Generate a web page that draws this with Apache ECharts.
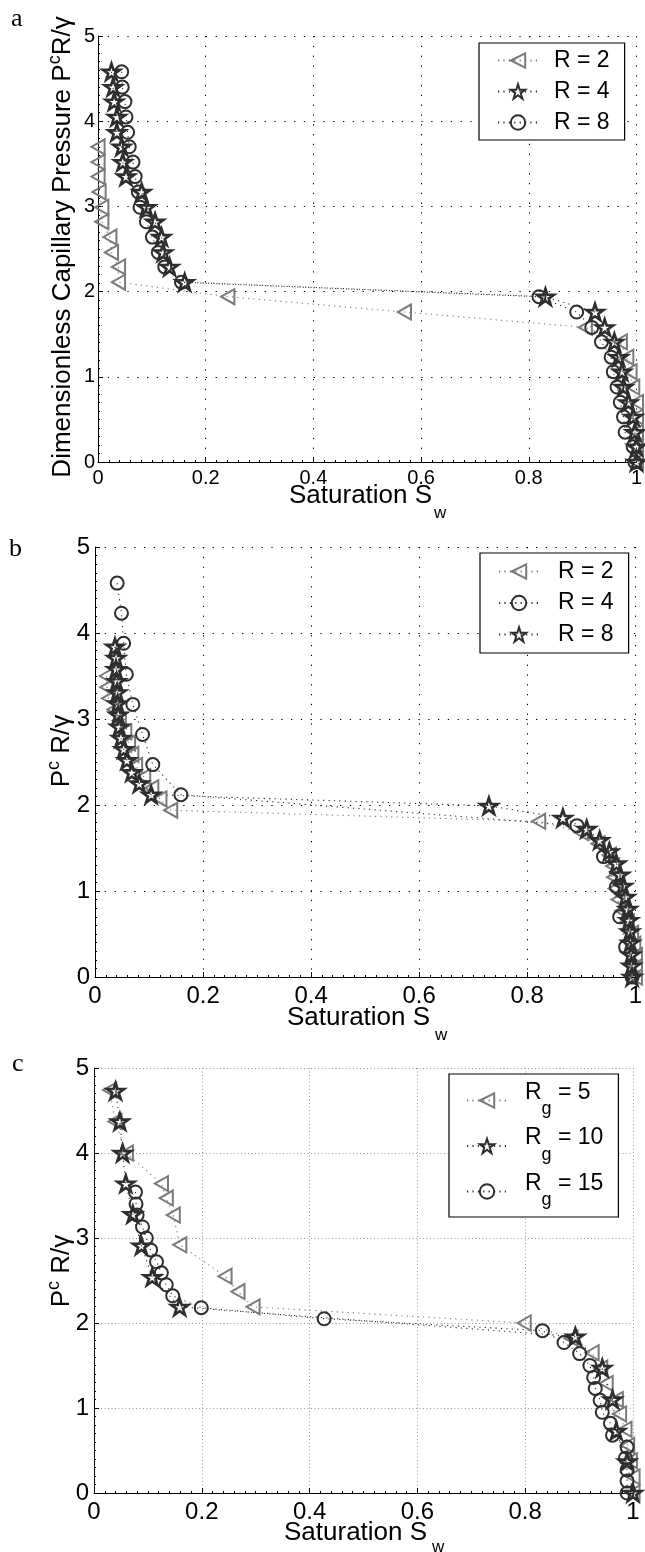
<!DOCTYPE html>
<html><head><meta charset="utf-8">
<script src="https://cdn.jsdelivr.net/npm/echarts@6/dist/echarts.min.js"></script>
<style>html,body{margin:0;padding:0;background:#fff}#c{width:645px;height:1552px}</style>
</head><body><div id="c"></div><script>
// ---------- data ----------
const xTicks = [0, 0.2, 0.4, 0.6, 0.8, 1];
const yTicks = [0, 1, 2, 3, 4, 5];

// Panel a
const aR2_y = [3.70, 3.52, 3.35, 3.17, 2.99, 2.82, 2.64, 2.46, 2.29, 2.11, 1.94, 1.76, 1.58, 1.41, 1.23, 1.06, 0.88, 0.70, 0.53, 0.35, 0.18, 0.0];
const aR2_x = [0.0, 0.0, 0.0, 0.002, 0.007, 0.007, 0.022, 0.025, 0.038, 0.038, 0.241, 0.569, 0.905, 0.970, 0.982, 0.988, 0.993, 1.0, 1.0, 1.0, 1.0, 1.0];
const aR48_y = [4.58, 4.40, 4.23, 4.05, 3.87, 3.70, 3.52, 3.35, 3.17, 2.99, 2.82, 2.64, 2.46, 2.29, 2.11, 1.94, 1.76, 1.58, 1.41, 1.23, 1.06, 0.88, 0.70, 0.53, 0.35, 0.18, 0.0];
const aR4_x = [0.025, 0.028, 0.030, 0.035, 0.035, 0.044, 0.046, 0.052, 0.081, 0.090, 0.106, 0.118, 0.121, 0.133, 0.161, 0.831, 0.923, 0.941, 0.959, 0.967, 0.973, 0.976, 0.985, 0.994, 0.997, 1.0, 1.0];
const aR8_x = [0.044, 0.045, 0.050, 0.052, 0.055, 0.058, 0.065, 0.069, 0.075, 0.078, 0.090, 0.101, 0.112, 0.124, 0.155, 0.819, 0.889, 0.917, 0.935, 0.953, 0.957, 0.964, 0.970, 0.976, 0.979, 0.994, 0.997];

// Panel b
const bR2_y = [3.50, 3.37, 3.24, 3.11, 2.98, 2.85, 2.72, 2.59, 2.46, 2.33, 2.20, 2.07, 1.94, 1.81, 1.68, 1.55, 1.42, 1.29, 1.16, 1.03, 0.90, 0.77, 0.64, 0.51, 0.38, 0.25, 0.12, 0.0];
const bR2_x = [0.021, 0.022, 0.025, 0.035, 0.045, 0.055, 0.062, 0.068, 0.075, 0.090, 0.105, 0.120, 0.140, 0.821, 0.900, 0.931, 0.952, 0.958, 0.960, 0.963, 0.968, 0.975, 0.985, 0.993, 0.997, 1.0, 1.0, 1.0];
const bR4_y = [4.58, 4.23, 3.88, 3.52, 3.17, 2.82, 2.47, 2.12, 1.76, 1.40, 1.05, 0.70, 0.35, 0.0];
const bR4_x = [0.041, 0.049, 0.053, 0.058, 0.070, 0.088, 0.107, 0.159, 0.892, 0.941, 0.965, 0.971, 0.982, 0.994];
const bR8_y = [3.84, 3.71, 3.58, 3.44, 3.31, 3.18, 3.05, 2.91, 2.78, 2.65, 2.52, 2.38, 2.25, 2.12, 1.99, 1.85, 1.72, 1.59, 1.46, 1.32, 1.19, 1.06, 0.93, 0.79, 0.66, 0.53, 0.40, 0.26, 0.13, 0.0];
const bR8_x = [0.037, 0.039, 0.039, 0.040, 0.041, 0.042, 0.043, 0.045, 0.048, 0.053, 0.059, 0.068, 0.082, 0.104, 0.729, 0.866, 0.910, 0.934, 0.952, 0.965, 0.972, 0.977, 0.982, 0.986, 0.988, 0.990, 0.991, 0.992, 0.993, 0.994];

// Panel c
const cRg5_y = [4.74, 4.37, 4.00, 3.64, 3.47, 3.27, 2.92, 2.55, 2.37, 2.19, 2.00, 1.82, 1.65, 1.47, 1.29, 1.10, 0.93, 0.75, 0.56, 0.38, 0.19, 0.0];
const cRg5_x = [0.029, 0.039, 0.060, 0.125, 0.134, 0.147, 0.159, 0.243, 0.267, 0.295, 0.798, 0.885, 0.924, 0.940, 0.950, 0.969, 0.975, 0.985, 0.990, 0.995, 1.0, 1.0];
const cRg10_y = [4.73, 4.37, 4.00, 3.64, 3.28, 2.91, 2.54, 2.19, 1.84, 1.47, 1.10, 0.73, 0.37, 0.0];
const cRg10_x = [0.040, 0.048, 0.053, 0.059, 0.072, 0.088, 0.108, 0.159, 0.893, 0.943, 0.962, 0.969, 0.989, 1.0];
const cRg15_y = [3.54, 3.40, 3.27, 3.13, 3.00, 2.86, 2.72, 2.59, 2.45, 2.32, 2.18, 2.05, 1.91, 1.77, 1.64, 1.50, 1.36, 1.23, 1.09, 0.95, 0.82, 0.68, 0.54, 0.41, 0.27, 0.14, 0.0];
const cRg15_x = [0.077, 0.078, 0.080, 0.090, 0.097, 0.105, 0.116, 0.125, 0.134, 0.146, 0.199, 0.427, 0.832, 0.872, 0.901, 0.920, 0.927, 0.930, 0.939, 0.943, 0.958, 0.962, 0.989, 0.986, 0.989, 0.989, 0.989];

// ---------- styling ----------
const FONT = '"Liberation Sans", Arial, Helvetica, sans-serif';
const SERIF = '"Liberation Serif", "Times New Roman", serif';
const GREY = '#7a7a7a', DARK = '#2e2e2e';
const TRI = 'path://M0,50 L88,0 L88,100 Z';
const STAR = 'path://M50,0 L61.23,34.55 L97.55,34.55 L68.17,55.9 L79.39,90.45 L50,69.1 L20.61,90.45 L31.83,55.9 L2.45,34.55 L38.77,34.55 Z';

function mk(name, gi, xs, ys, sym, size, col, bw) {
  return {
    type: 'line', name: name, xAxisIndex: gi, yAxisIndex: gi,
    data: xs.map((x, i) => [x, ys[i]]),
    symbol: sym, symbolSize: size, symbolKeepAspect: true, showSymbol: true, clip: false,
    lineStyle: { color: col, width: 1.1, type: [1.2, 4.2] },
    itemStyle: { color: 'rgba(255,255,255,0)', borderColor: col, borderWidth: bw || 2 },
    emphasis: { disabled: true }, silent: true, animation: false
  };
}
function xAx(gi, fs, margin, gcol, gdash) {
  return {
    type: 'value', gridIndex: gi, min: xTicks[0], max: xTicks[xTicks.length - 1], interval: 0.2,
    axisLine: { show: true, onZero: false, lineStyle: { color: '#000', width: 1 } },
    axisTick: { show: true, inside: true, length: 5, lineStyle: { color: '#000' } },
    minorTick: { show: true, splitNumber: 10, length: 2, lineStyle: { color: '#000' } },
    axisLabel: { fontSize: fs, fontFamily: FONT, color: '#000', margin: margin },
    splitLine: { show: true, lineStyle: { color: gcol, width: 1, type: gdash } }
  };
}
function yAx(gi, fs, margin, gcol, gdash) {
  return {
    type: 'value', gridIndex: gi, min: yTicks[0], max: yTicks[yTicks.length - 1], interval: 1,
    axisLine: { show: true, onZero: false, lineStyle: { color: '#000', width: 1 } },
    axisTick: { show: true, inside: true, length: 5, lineStyle: { color: '#000' } },
    minorTick: { show: true, splitNumber: 10, length: 2, lineStyle: { color: '#000' } },
    axisLabel: { fontSize: fs, fontFamily: FONT, color: '#000', margin: margin },
    splitLine: { show: true, lineStyle: { color: gcol, width: 1, type: gdash } }
  };
}
function legend(left, top, pad, gap, names, fmt, textPad, rich) {
  return {
    orient: 'vertical', left: left, top: top, padding: pad, itemGap: gap,
    itemWidth: 40, itemHeight: 18, selectedMode: false,
    backgroundColor: '#fff', borderColor: '#000', borderWidth: 1.2, borderRadius: 0,
    data: names, formatter: fmt,
    textStyle: { fontSize: 23, fontFamily: FONT, color: '#000', lineHeight: 22, padding: textPad, rich: rich }
  };
}
const strip = n => n.split('|')[1];
const DOT_AB = [1.3, 8.5];
const DOT_C = [1, 2.5];

const option = {
  animation: false,
  backgroundColor: '#fff',
  grid: [
    { left: 98, top: 36, width: 540, height: 426 },
    { left: 95, top: 547, width: 544, height: 430 },
    { left: 94, top: 1068, width: 539, height: 425 }
  ],
  xAxis: [xAx(0, 20, 6, '#000', DOT_AB), xAx(1, 24, 7, '#000', DOT_AB), xAx(2, 24, 7, '#999', DOT_C)],
  yAxis: [yAx(0, 20, 3, '#000', DOT_AB), yAx(1, 24, 5, '#000', DOT_AB), yAx(2, 24, 5, '#999', DOT_C)],
  legend: [
    legend(479, 43, [6, 15, 6, 18], 8, ['a|R = 2', 'a|R = 4', 'a|R = 8'], strip, [0, 0, 0, 11]),
    legend(480, 553, [7, 15, 7, 18], 8.5, ['b|R = 2', 'b|R = 4', 'b|R = 8'], strip, [0, 0, 0, 14]),
    legend(449, 1074, [7, 15, 6, 17], 6.5, ['c|5', 'c|10', 'c|15'],
      n => '{m|R}{s|g}{m| = ' + strip(n) + '}', [0, 0, 0, 13],
      { m: { fontSize: 23, fontFamily: FONT, color: '#000', lineHeight: 16, padding: [0, 0, 16, 0] },
        s: { fontSize: 18, fontFamily: FONT, color: '#000', lineHeight: 12, padding: [18, 0, 0, 0] } })
  ],
  series: [
    mk('a|R = 2', 0, aR2_x, aR2_y, TRI, 15, GREY),
    mk('a|R = 4', 0, aR4_x, aR48_y, STAR, 17, DARK, 2.6),
    mk('a|R = 8', 0, aR8_x, aR48_y, 'circle', 13, DARK),
    mk('b|R = 2', 1, bR2_x, bR2_y, TRI, 15, GREY),
    mk('b|R = 4', 1, bR4_x, bR4_y, 'circle', 13, DARK),
    mk('b|R = 8', 1, bR8_x, bR8_y, STAR, 17, DARK, 2.6),
    mk('c|5', 2, cRg5_x, cRg5_y, TRI, 15, GREY),
    mk('c|10', 2, cRg10_x, cRg10_y, STAR, 17, DARK, 2.6),
    mk('c|15', 2, cRg15_x, cRg15_y, 'circle', 13, DARK)
  ],
  graphic: [
    { type: 'text', x: 11, y: 19, style: { text: 'a', fontSize: 26, fontFamily: SERIF, fill: '#000', align: 'left', verticalAlign: 'middle' } },
    { type: 'text', x: 9, y: 549, style: { text: 'b', fontSize: 26, fontFamily: SERIF, fill: '#000', align: 'left', verticalAlign: 'middle' } },
    { type: 'text', x: 12, y: 1064, style: { text: 'c', fontSize: 26, fontFamily: SERIF, fill: '#000', align: 'left', verticalAlign: 'middle' } },
    // x titles
    { type: 'text', x: 289, y: 496, style: { text: 'Saturation S', fontSize: 26, fontFamily: FONT, fill: '#000', align: 'left', verticalAlign: 'middle' } },
    { type: 'text', x: 434, y: 513, style: { text: 'w', fontSize: 17, fontFamily: FONT, fill: '#000', align: 'left', verticalAlign: 'middle' } },
    { type: 'text', x: 287, y: 1018, style: { text: 'Saturation S', fontSize: 26, fontFamily: FONT, fill: '#000', align: 'left', verticalAlign: 'middle' } },
    { type: 'text', x: 435, y: 1035, style: { text: 'w', fontSize: 17, fontFamily: FONT, fill: '#000', align: 'left', verticalAlign: 'middle' } },
    { type: 'text', x: 284, y: 1533, style: { text: 'Saturation S', fontSize: 26, fontFamily: FONT, fill: '#000', align: 'left', verticalAlign: 'middle' } },
    { type: 'text', x: 432, y: 1547, style: { text: 'w', fontSize: 17, fontFamily: FONT, fill: '#000', align: 'left', verticalAlign: 'middle' } },
    // y titles
    { type: 'text', x: 63, y: 247, rotation: Math.PI / 2, style: { text: '{m|Dimensionless Capillary Pressure P}{s|c}{m|R/γ}', align: 'center', verticalAlign: 'middle',
      rich: { m: { fontSize: 26, fontFamily: FONT, fill: '#000', lineHeight: 26 }, s: { fontSize: 18, fontFamily: FONT, fill: '#000', lineHeight: 18, padding: [0, 0, 16, 0] } } } },
    { type: 'text', x: 62, y: 751, rotation: Math.PI / 2, style: { text: '{m|P}{s|c}{m| R/γ}', align: 'center', verticalAlign: 'middle',
      rich: { m: { fontSize: 26, fontFamily: FONT, fill: '#000', lineHeight: 26 }, s: { fontSize: 18, fontFamily: FONT, fill: '#000', lineHeight: 18, padding: [0, 0, 16, 0] } } } },
    { type: 'text', x: 62, y: 1271, rotation: Math.PI / 2, style: { text: '{m|P}{s|c}{m| R/γ}', align: 'center', verticalAlign: 'middle',
      rich: { m: { fontSize: 26, fontFamily: FONT, fill: '#000', lineHeight: 26 }, s: { fontSize: 18, fontFamily: FONT, fill: '#000', lineHeight: 18, padding: [0, 0, 16, 0] } } } }
  ]
};
const chart = echarts.init(document.getElementById('c'), null, { renderer: 'canvas' });
chart.setOption(option);
</script></body></html>
